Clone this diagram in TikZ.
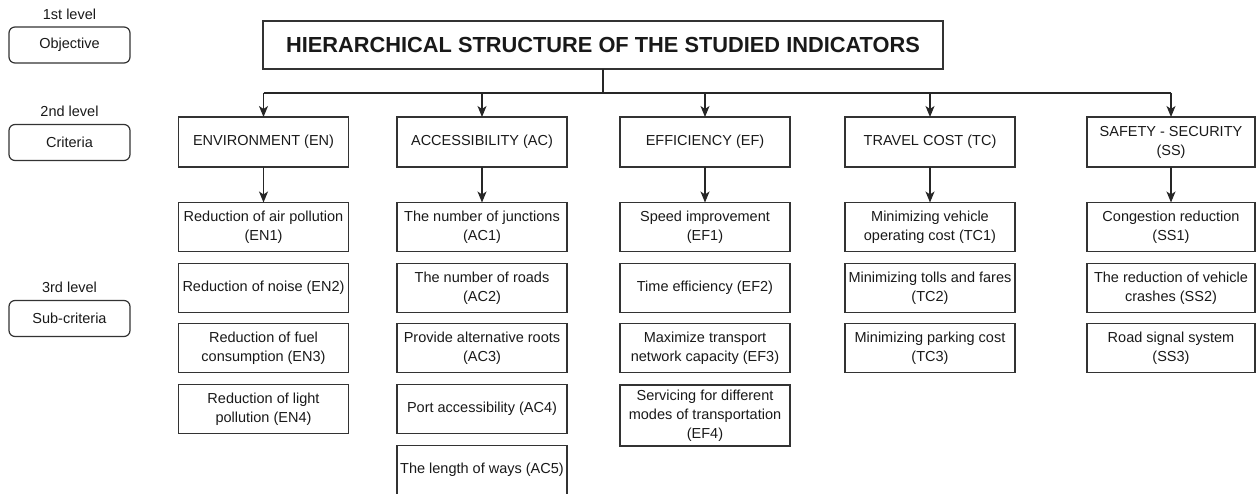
\documentclass[tikz,border=0pt]{standalone}
\usepackage{fontspec}
\setmainfont{Liberation Sans}
\usetikzlibrary{arrows.meta}
\begin{document}
\begin{tikzpicture}[x=1pt,y=-1pt,
  line width=1.2pt,
  every node/.style={font=\fontsize{14.5}{19}\selectfont, text=black!90},
  boxbase/.style={draw=black!80, line width=1.2pt, align=center, inner sep=0pt, outer sep=0pt},
  critbox/.style={boxbase, minimum width=170pt, minimum height=50pt},
  subbox/.style={boxbase, minimum width=170pt, minimum height=49pt},
  levelbox/.style={boxbase, rounded corners=6pt, minimum width=121pt, minimum height=36pt},
  titlebox/.style={boxbase, minimum width=680pt, minimum height=48pt, font=\fontsize{21.8}{24}\selectfont\bfseries},
  levellabel/.style={inner sep=0pt},
  conn/.style={draw=black!85, line width=1.2pt},
  arr/.style={conn, -{Stealth[length=11pt,width=9pt,inset=3pt]}}
]
\useasboundingbox (0,0) rectangle (1256,494);

% left legend
\node[levellabel] (l1) at (69.5,14) {1st level};
\node[levelbox] (obj) at (69.5,45) {Objective};
\node[levellabel] (l2) at (69.5,111) {2nd level};
\node[levelbox] (crit) at (69.5,142.5) {Criteria};
\node[levellabel] (l3) at (69.5,287) {3rd level};
\node[levelbox] (subc) at (69.5,318.5) {Sub-criteria};

% title
\node[titlebox] (T) at (603,45) {HIERARCHICAL STRUCTURE OF THE STUDIED INDICATORS};

% criteria
\node[critbox] (EN) at (263.5,142) {ENVIRONMENT (EN)};
\node[critbox] (AC) at (482,142) {ACCESSIBILITY (AC)};
\node[critbox] (EF) at (705,142) {EFFICIENCY (EF)};
\node[critbox] (TC) at (930,142) {TRAVEL COST (TC)};
\node[critbox, minimum width=168pt] (SS) at (1171,142) {SAFETY - SECURITY\\(SS)};

% sub-criteria EN
\node[subbox] (EN1) at (263.5,227) {Reduction of air pollution\\(EN1)};
\node[subbox] (EN2) at (263.5,288) {Reduction of noise (EN2)};
\node[subbox] (EN3) at (263.5,348) {Reduction of fuel\\consumption (EN3)};
\node[subbox] (EN4) at (263.5,409) {Reduction of light\\pollution (EN4)};

% AC
\node[subbox] (AC1) at (482,227) {The number of junctions\\(AC1)};
\node[subbox] (AC2) at (482,288) {The number of roads\\(AC2)};
\node[subbox] (AC3) at (482,348) {Provide alternative roots\\(AC3)};
\node[subbox] (AC4) at (482,409) {Port accessibility (AC4)};
\node[subbox] (AC5) at (482,470) {The length of ways (AC5)};

% EF
\node[subbox] (EF1) at (705,227) {Speed improvement\\(EF1)};
\node[subbox] (EF2) at (705,288) {Time efficiency (EF2)};
\node[subbox] (EF3) at (705,348) {Maximize transport\\network capacity (EF3)};
\node[subbox, minimum height=61pt] (EF4) at (705,415.5) {Servicing for different\\modes of transportation\\(EF4)};

% TC
\node[subbox] (TC1) at (930,227) {Minimizing vehicle\\operating cost (TC1)};
\node[subbox] (TC2) at (930,288) {Minimizing tolls and fares\\(TC2)};
\node[subbox] (TC3) at (930,348) {Minimizing parking cost\\(TC3)};

% SS
\node[subbox, minimum width=168pt] (SS1) at (1171,227) {Congestion reduction\\(SS1)};
\node[subbox, minimum width=168pt] (SS2) at (1171,288) {The reduction of vehicle\\crashes (SS2)};
\node[subbox, minimum width=168pt] (SS3) at (1171,348) {Road signal system\\(SS3)};

% connectors
\coordinate (bus) at (603,93);
\draw[conn] (T.south) -- (T.south |- bus);
\draw[conn] (EN.north |- bus) -- (SS.north |- bus);
\foreach \c in {EN,AC,EF,TC,SS} {
  \draw[arr] (\c.north |- bus) -- (\c.north);
  \draw[arr] (\c.south) -- (\c1.north);
}
\end{tikzpicture}
\end{document}
